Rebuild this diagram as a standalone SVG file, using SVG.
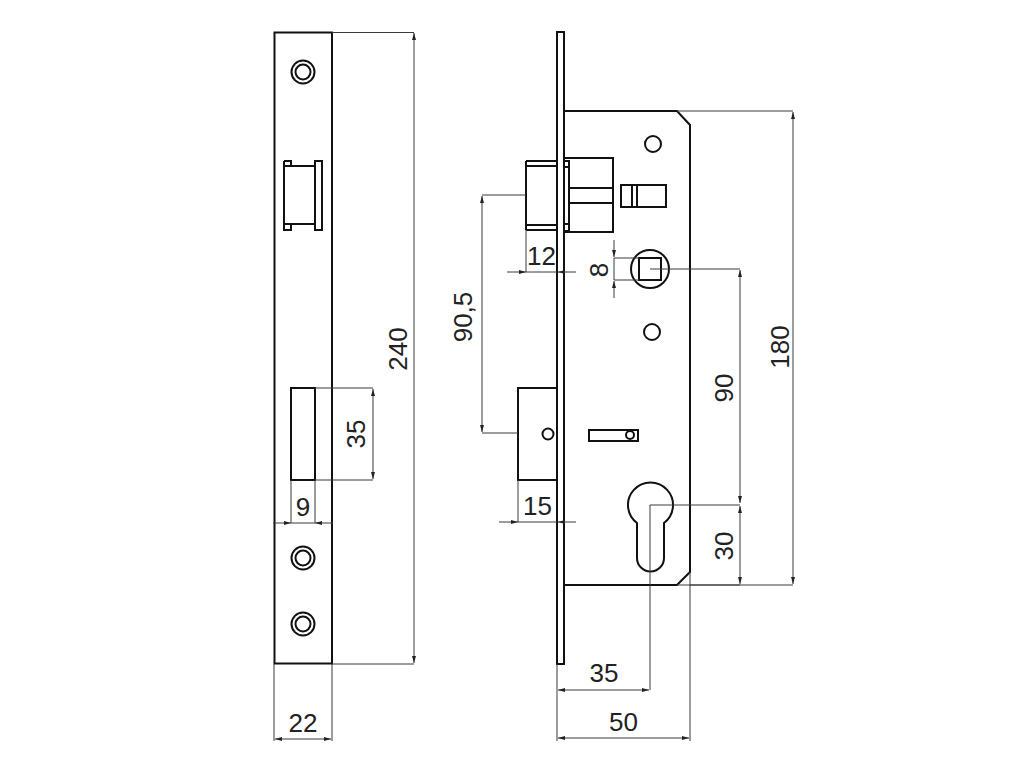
<svg xmlns="http://www.w3.org/2000/svg" width="1024" height="768" viewBox="0 0 1024 768">
<style>
.o{fill:none;stroke:#111;stroke-width:2}
.d{fill:none;stroke:#3a3a3a;stroke-width:1}
.a{marker-end:url(#ah)}
text{font-family:"Liberation Sans",Arial,sans-serif;font-size:26px;fill:#222;text-anchor:middle}
</style>
<defs>
<marker id="ah" markerUnits="userSpaceOnUse" markerWidth="8" markerHeight="5" refX="7" refY="2" orient="auto"><path d="M0 0L7 2L0 4Z" fill="#222"/></marker>
</defs>
<rect width="1024" height="768" fill="#fff"/>
<g id="strike-plate">
<rect class="o" x="274.500" y="32.500" width="57.500" height="631"/>
<circle class="o" cx="303" cy="72" r="11.500"/><circle class="o" cx="303" cy="72" r="7.500"/>
<circle class="o" cx="303" cy="558" r="11.500"/><circle class="o" cx="303" cy="558" r="7.500"/>
<circle class="o" cx="303" cy="624" r="11.500"/><circle class="o" cx="303" cy="624" r="7.500"/>
<path class="o" d="M284 166H315M284 224H315M284 161H291V166M291 224V230H284V161M315 161H322V230H315Z"/>
<rect class="o" x="291" y="388" width="24" height="92"/>
</g>
<g id="lock-body">
<rect class="o" x="557" y="32" width="7" height="632"/>
<path class="o" d="M564 111H677L690 125V572L677 585H564"/>
<circle class="o" cx="653" cy="144" r="8"/><circle class="o" cx="652" cy="332" r="8"/>
<path class="o" d="M526 161H557M526 166H557M526 225H557M526 230H557M526 161V230M564 161H569V231H564M564 167H569M564 224H569M564 158H613V232H564M569 188H613M569 203H613"/>
<path class="o" d="M621 185H666V207H621ZM632 185V207M637 185V207"/>
<circle class="o" cx="650" cy="269" r="19"/><rect class="o" x="639" y="258" width="22" height="22"/>
<path class="o" d="M557 388H518V480H557"/>
<circle class="o" cx="548" cy="434" r="5.500"/>
<rect class="o" x="589" y="430" width="49" height="11"/><circle class="o" cx="630" cy="435" r="4"/>
<path class="o" d="M637 523A22.500 22.500 0 1 1 664 523V558A13.500 13.500 0 0 1 637 558Z"/>
</g>
<g id="connectors">
<path class="d" d="M332 32.500H414M332 664H414M315 388H373M315 480H373M291 480V523M315 480V523M274 664V741M332 664V741"/>
<path class="d a" d="M414 200V33"/><path class="d a" d="M414 500V663"/><path class="d" d="M414 200V500"/>
<path class="d a" d="M373 430V389"/><path class="d a" d="M373 430V479"/>
<path class="d" d="M291 523H315"/><path class="d a" d="M273 523H291"/><path class="d a" d="M333 523H315"/>
<path class="d a" d="M303 739H275"/><path class="d a" d="M303 739H331"/>
<path class="d" d="M677 111H793M677 585H793M650 269H740M650 505H740M690 585H740M650 505V690M690 572V741M557 664V741"/>
<path class="d a" d="M793 350V112"/><path class="d a" d="M793 350V584"/>
<path class="d a" d="M740 400V503"/><path class="d a" d="M740 400V270"/>
<path class="d a" d="M740 545V506"/><path class="d a" d="M740 545V584"/>
<path class="d a" d="M604 690H558"/><path class="d a" d="M604 690H649"/>
<path class="d a" d="M624 738H558"/><path class="d a" d="M624 738H689"/>
<path class="d" d="M614 258H639M614 280H639M526 230V272M482 195H526M482 433H518M518 480V522M614 258V280"/>
<path class="d a" d="M614 240V257"/><path class="d a" d="M614 298V281"/>
<path class="d" d="M526 272H557M518 522H557"/>
<path class="d a" d="M507 272H526"/><path class="d a" d="M576 272H558"/>
<path class="d a" d="M482 320V196"/><path class="d a" d="M482 320V432"/>
<path class="d a" d="M499 522H518"/><path class="d a" d="M576 522H558"/>
</g>
<g id="labels">
<text transform="translate(407 349) rotate(-90)">240</text>
<text transform="translate(365 434) rotate(-90)">35</text>
<text x="303" y="516">9</text>
<text x="303" y="732">22</text>
<text transform="translate(472 317) rotate(-90)">90,5</text>
<text x="541.500" y="265">12</text>
<text transform="translate(608 270) rotate(-90)">8</text>
<text x="537.500" y="515">15</text>
<text transform="translate(733 388) rotate(-90)">90</text>
<text transform="translate(733 546) rotate(-90)">30</text>
<text transform="translate(789 347) rotate(-90)">180</text>
<text x="604" y="682">35</text>
<text x="623.500" y="731">50</text>
</g>
</svg>
